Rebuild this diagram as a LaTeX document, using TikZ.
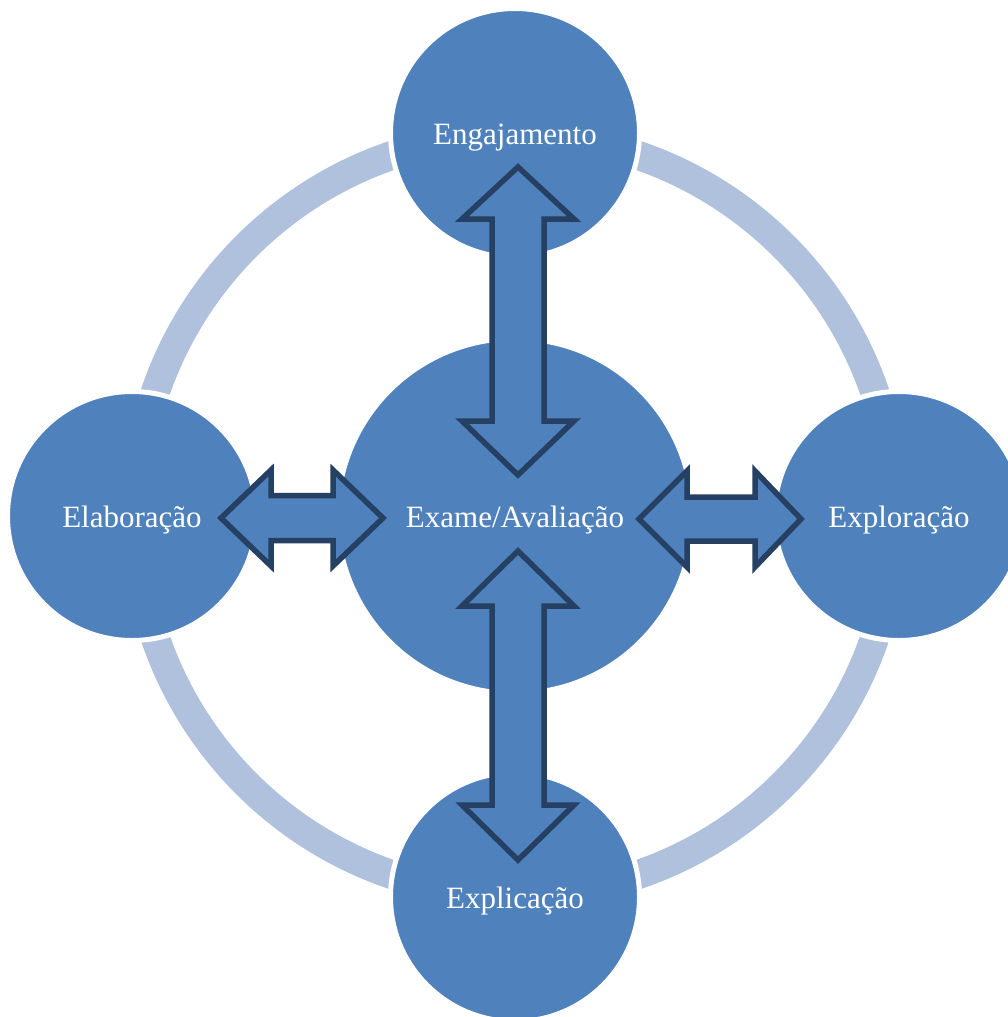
\documentclass[tikz,border=0pt]{standalone}
\usepackage{fontspec}
\setmainfont{Liberation Serif}
\definecolor{cfill}{RGB}{79,129,189}
\definecolor{ringc}{RGB}{176,193,221}
\definecolor{arrline}{RGB}{37,64,98}
\begin{document}
\begin{tikzpicture}[x=1pt,y=-1pt,
  stage/.style={circle, fill=cfill, draw=white, line width=5pt, text=white,
    font=\fontsize{31}{37}\selectfont, inner sep=0pt, text height=23pt, text depth=0pt},
  blockarrow/.style={fill=cfill, draw=arrline, line width=5.5pt, line join=miter}]
\useasboundingbox (0,0) rectangle (1008,1017);
\fill[white] (0,0) rectangle (1008,1017);
\coordinate (C) at (515,515);
% ring
\draw[ringc, line width=29pt] (C) circle[radius=380pt];
% outer stages
\node[stage, minimum size=249pt] (eng) at (515,133) {Engajamento};
\node[stage, minimum size=249pt] (ela) at (132,516) {Elaboração};
\node[stage, minimum size=249pt] (explo) at (899,516) {Exploração};
\node[stage, minimum size=249pt] (expli) at (515,897) {Explicação};
% centre
\node[stage, minimum size=355pt] (exa) at (515,516) {Exame/Avaliação};
% top double arrow
\draw[blockarrow] (518,167) -- (574,219) -- (544,219) -- (544,421) -- (574,421)
  -- (518,475) -- (462,421) -- (492,421) -- (492,219) -- (462,219) -- cycle;
% bottom double arrow
\draw[blockarrow] (518,551) -- (574,606) -- (544,606) -- (544,805) -- (574,805)
  -- (518,860) -- (462,805) -- (492,805) -- (492,606) -- (462,606) -- cycle;
% left double arrow
\draw[blockarrow] (221,518) -- (271,470) -- (271,495.5) -- (333,495.5) -- (333,470)
  -- (383,518) -- (333,566) -- (333,540.5) -- (271,540.5) -- (271,566) -- cycle;
% right double arrow
\draw[blockarrow] (639,519) -- (687,471) -- (687,497) -- (755,497) -- (755,471)
  -- (801,519) -- (755,567) -- (755,541) -- (687,541) -- (687,567) -- cycle;
\end{tikzpicture}
\end{document}
